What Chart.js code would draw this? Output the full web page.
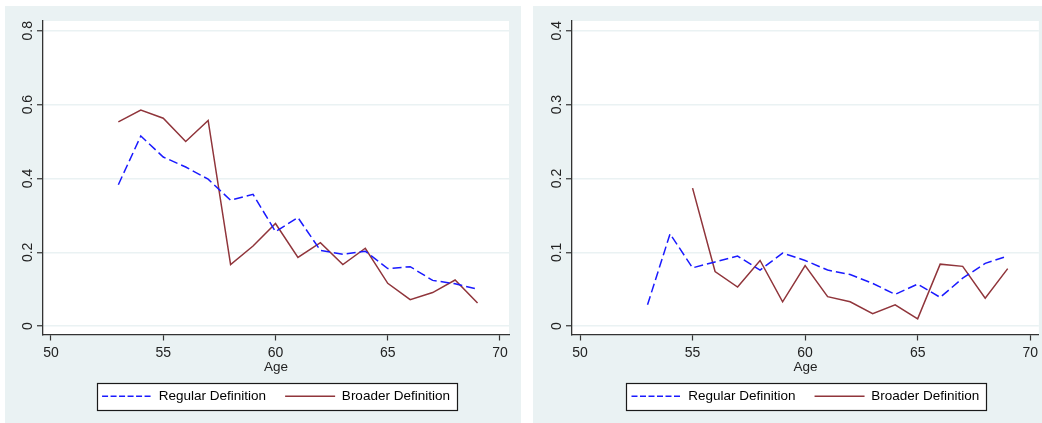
<!DOCTYPE html>
<html>
<head>
<meta charset="utf-8">
<script src="https://cdn.jsdelivr.net/npm/chart.js@4.4.0/dist/chart.umd.min.js"></script>
<style>
  html, body { margin: 0; padding: 0; background: #fff; }
  #wrap { position: relative; width: 1042px; height: 423px; overflow: hidden; }
  .panel { position: absolute; top: 0; width: 521px; height: 423px; }
</style>
</head>
<body>
<div id="wrap">
  <div class="panel" style="left:0"><canvas id="leftChart" width="521" height="423"></canvas></div>
  <div class="panel" style="left:521px"><canvas id="rightChart" width="521" height="423"></canvas></div>
</div>
<script>
// ages on the x axis
const ages = [53, 54, 55, 56, 57, 58, 59, 60, 61, 62, 63, 64, 65, 66, 67, 68, 69]
const xTicks = [50, 55, 60, 65, 70]
const seriesNames = ["Regular Definition", "Broader Definition"]

// left panel
const leftYTicks = [0, 0.2, 0.4, 0.6, 0.8]
const leftRegular = [0.383, 0.515, 0.458, 0.431, 0.398, 0.341, 0.357, 0.256, 0.294, 0.205, 0.195, 0.203, 0.156, 0.161, 0.124, 0.115, 0.100]
const leftBroader = [0.553, 0.585, 0.563, 0.500, 0.557, 0.167, 0.217, 0.278, 0.186, 0.226, 0.167, 0.211, 0.116, 0.072, 0.091, 0.125, 0.063]

// right panel
const rightYTicks = [0, 0.1, 0.2, 0.3, 0.4]
const rightRegular = [0.029, 0.125, 0.079, 0.087, 0.095, 0.076, 0.099, 0.089, 0.076, 0.070, 0.058, 0.043, 0.057, 0.039, 0.065, 0.085, 0.095]
const rightBroader = [null, null, 0.187, 0.074, 0.053, 0.089, 0.033, 0.082, 0.040, 0.033, 0.017, 0.029, 0.010, 0.084, 0.081, 0.038, 0.078]

const BG = "#eaf2f3"
const TEXT = "#222"
const AXIS = "#333"
const BLUE = "#1a1aff"
const RED = "rgb(144, 53, 59)"
const FONT = "'Liberation Sans', Arial, sans-serif"

Chart.defaults.font.family = FONT
Chart.defaults.color = TEXT

const points = (vals) => ages.map((a, i) => ({ x: a, y: vals[i] }))

const panelBackground = {
  id: "panelBackground",
  beforeDraw(chart, args, opts) {
    const { ctx, chartArea } = chart
    ctx.save()
    ctx.fillStyle = BG
    ctx.fillRect(opts.x0, opts.y0, opts.x1 - opts.x0, opts.y1 - opts.y0)
    ctx.fillStyle = "#fff"
    ctx.fillRect(chartArea.left, chartArea.top, chartArea.right - chartArea.left, chartArea.bottom - chartArea.top)

    // white box with a dark frame round the legend
    const boxes = chart.legend.legendHitBoxes
    if (boxes && boxes.length) {
      const minX = Math.min(...boxes.map(b => b.left))
      const maxX = Math.max(...boxes.map(b => b.left + b.width))
      const midY = boxes[0].top + boxes[0].height / 2
      const x = Math.round(minX - 5.5) + 0.5
      const w = Math.round(maxX + 6.5 - minX + 5.5)
      const y = Math.round(midY - 13.5) + 0.5
      ctx.fillStyle = "#fff"
      ctx.fillRect(x, y, w, 27)
      ctx.strokeStyle = "#1a1a1a"
      ctx.lineWidth = 1.2
      ctx.strokeRect(x, y, w, 27)
    }
    ctx.restore()
  }
}

function makePanel(canvasId, regular, broader, yTicks, yMin, yMax, xMax, yAxisWidth, padRight, bg) {
  const ctx = document.getElementById(canvasId).getContext("2d")
  return new Chart(ctx, {
    type: "line",
    data: {
      datasets: [
        {
          label: seriesNames[0],
          data: points(regular),
          borderColor: BLUE,
          borderWidth: 1.5,
          borderDash: [9, 4],
          pointRadius: 0,
          tension: 0
        },
        {
          label: seriesNames[1],
          data: points(broader),
          borderColor: RED,
          borderWidth: 1.5,
          pointRadius: 0,
          tension: 0
        }
      ]
    },
    options: {
      responsive: false,
      devicePixelRatio: 1,
      animation: false,
      layout: { padding: { top: 21, right: padRight, left: 0, bottom: 10 } },
      scales: {
        x: {
          type: "linear",
          min: 49.644,
          max: xMax,
          afterBuildTicks: (scale) => { scale.ticks = xTicks.map(v => ({ value: v })) },
          afterFit: (scale) => { scale.height = 36 },
          grid: { drawOnChartArea: false, tickColor: AXIS, tickLength: 6, tickWidth: 1.2 },
          border: { color: AXIS, width: 1.3 },
          ticks: { font: { size: 14 }, color: TEXT, padding: 4, maxRotation: 0 },
          title: { display: true, text: "Age", font: { size: 13.5 }, color: TEXT, padding: { top: 0, bottom: -5 } }
        },
        y: {
          min: yMin,
          max: yMax,
          afterBuildTicks: (scale) => { scale.ticks = yTicks.map(v => ({ value: v })) },
          afterFit: (scale) => { scale.width = yAxisWidth },
          grid: { color: BG, lineWidth: 1.5, tickColor: AXIS, tickLength: 6, tickWidth: 1.2 },
          border: { color: AXIS, width: 1.3 },
          ticks: { font: { size: 14 }, color: TEXT, padding: -1, minRotation: 90, maxRotation: 90, crossAlign: "center" }
        }
      },
      plugins: {
        panelBackground: bg,
        tooltip: { enabled: false },
        legend: {
          position: "bottom",
          fullSize: false,
          labels: {
            usePointStyle: true,
            pointStyle: "line",
            pointStyleWidth: 50,
            padding: 19,
            color: TEXT,
            font: { size: 13.5 },
            generateLabels(chart) {
              return chart.data.datasets.map((ds, i) => ({
                text: ds.label,
                datasetIndex: i,
                strokeStyle: ds.borderColor,
                fillStyle: ds.borderColor,
                lineWidth: 1.5,
                lineDash: i === 0 ? [6, 2.5] : [],
                pointStyle: "line",
                hidden: false
              }))
            }
          }
        }
      }
    },
    plugins: [panelBackground]
  })
}

makePanel("leftChart", leftRegular, leftBroader, leftYTicks, -0.0225, 0.8263, 70.401, 43, 12,
  { x0: 5, y0: 6, x1: 524, y1: 423 })
makePanel("rightChart", rightRegular, rightBroader, rightYTicks, -0.01125, 0.4132, 70.384, 51, 0,
  { x0: 12, y0: 6, x1: 521, y1: 423 })
</script>
</body>
</html>
